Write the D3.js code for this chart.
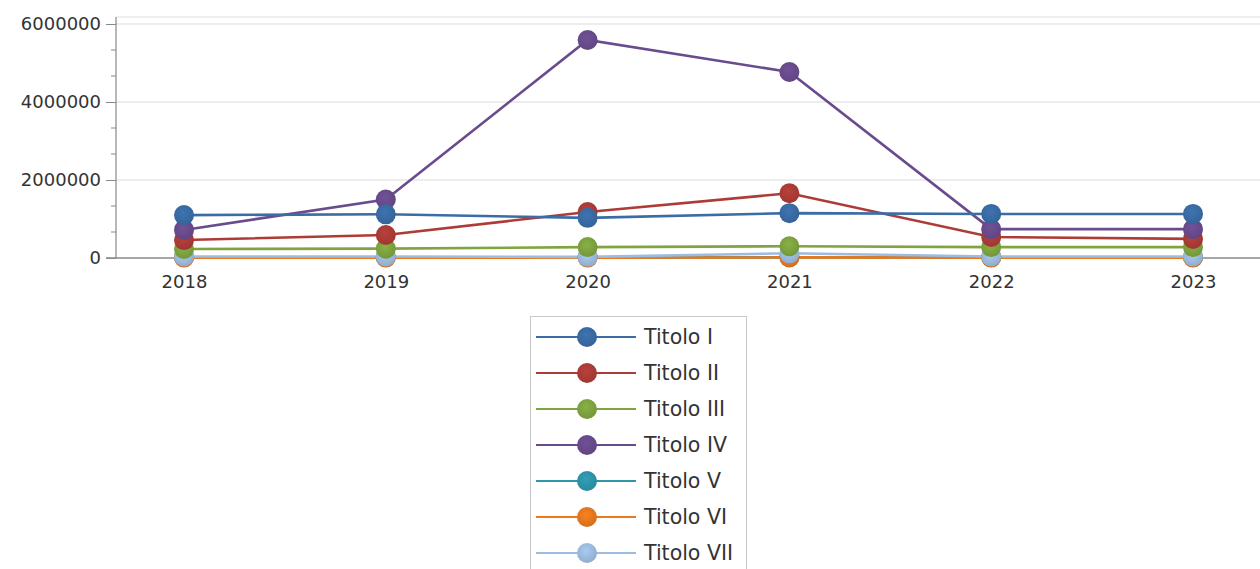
<!DOCTYPE html>
<html><head><meta charset="utf-8">
<script src="https://cdn.jsdelivr.net/npm/d3@7/dist/d3.min.js"></script>
<style>body{margin:0;background:#fff;}svg{display:block;font-family:"DejaVu Sans",sans-serif;}</style>
</head><body><svg id="c" width="1260" height="569"></svg>
<script>
const years = ["2018","2019","2020","2021","2022","2023"];
const seriesNames = ["Titolo I","Titolo II","Titolo III","Titolo IV","Titolo V","Titolo VI","Titolo VII"];
const titoloI   = [1100000,1120000,1030000,1150000,1130000,1130000];
const titoloII  = [460000,590000,1180000,1660000,540000,490000];
const titoloIII = [230000,240000,280000,300000,280000,280000];
const titoloIV  = [720000,1500000,5590000,4770000,740000,740000];
const titoloV   = [20000,20000,20000,20000,20000,20000];
const titoloVI  = [10000,10000,10000,15000,10000,10000];
const titoloVII = [40000,40000,30000,120000,40000,40000];
const seriesValues = [titoloI,titoloII,titoloIII,titoloIV,titoloV,titoloVI,titoloVII];
const colors = ["#3a6ca6","#ad3c37","#7fa53f","#6a4b8e","#2e95aa","#e8791f","#9dbde0"];
const yTicks = [0,2000000,4000000,6000000];

const svg = d3.select("#c");
const x = d3.scalePoint().domain(years).range([184,1193]);
const y = d3.scaleLinear().domain([0,6000000]).range([258,24]);
const FONT = "DejaVu Sans, sans-serif";

const defs = svg.append("defs");
colors.forEach((c,i)=>{
  const g = defs.append("radialGradient").attr("id","g"+i).attr("cx","45%").attr("cy","40%").attr("r","60%");
  g.append("stop").attr("offset","0%").attr("stop-color",d3.color(c).brighter(0.2));
  g.append("stop").attr("offset","100%").attr("stop-color",d3.color(c).darker(0.25));
});

// gridlines
svg.append("g").selectAll("line").data(yTicks.slice(1)).join("line")
  .attr("x1",116).attr("x2",1260).attr("y1",d=>y(d)).attr("y2",d=>y(d))
  .attr("stroke","#dcdcdc").attr("stroke-width",1.2);
svg.append("line").attr("x1",116).attr("x2",1260).attr("y1",17).attr("y2",17).attr("stroke","#e0e0e0").attr("stroke-width",1.2);

// y axis
const yAxis = svg.append("g").attr("transform","translate(116,0)")
  .call(d3.axisLeft(y).tickValues(yTicks).tickFormat(d3.format("d")).tickSize(10).tickSizeOuter(0));
yAxis.attr("font-family",FONT);
yAxis.select(".domain").remove();
yAxis.selectAll(".tick line").attr("stroke","#888");
yAxis.selectAll("text").attr("font-size",18).attr("fill","#333").attr("x",-15);
const minor = d3.range(0,6000001,2000000/3).filter((d,i)=>i%3!==0);
svg.append("g").selectAll("line").data(minor).join("line")
  .attr("x1",111).attr("x2",116).attr("y1",d=>y(d)).attr("y2",d=>y(d)).attr("stroke","#888");
svg.append("line").attr("x1",116).attr("x2",116).attr("y1",17).attr("y2",258).attr("stroke","#888").attr("stroke-width",1.2);

// x axis
const xAxis = svg.append("g").attr("transform","translate(0,258)")
  .call(d3.axisBottom(x).tickSize(8).tickSizeOuter(0));
xAxis.attr("font-family",FONT);
xAxis.select(".domain").remove();
xAxis.selectAll(".tick line").attr("stroke","#999");
xAxis.selectAll("text").attr("font-size",18).attr("fill","#333").attr("dy","1.05em");
svg.append("line").attr("x1",106).attr("x2",1260).attr("y1",258).attr("y2",258).attr("stroke","#888").attr("stroke-width",1.5);

// lines + markers
const line = d3.line().x((d,i)=>x(years[i])).y(d=>y(d));
const order = [4,5,6,2,1,3,0];
order.forEach(si=>{
  svg.append("path").datum(seriesValues[si]).attr("d",line)
    .attr("fill","none").attr("stroke",colors[si]).attr("stroke-width",2.6);
});
order.forEach(si=>{
  svg.append("g").selectAll("circle").data(seriesValues[si]).join("circle")
    .attr("cx",(d,i)=>x(years[i])).attr("cy",d=>y(d)).attr("r",10)
    .attr("fill","url(#g"+si+")");
});

// legend
const lg = svg.append("g");
lg.append("rect").attr("x",530.5).attr("y",316.5).attr("width",216).attr("height",270)
  .attr("fill","#fff").attr("stroke","#c8c8c8");
seriesNames.forEach((n,i)=>{
  const cy = 337 + i*36;
  lg.append("line").attr("x1",536).attr("x2",636).attr("y1",cy).attr("y2",cy).attr("stroke",colors[i]).attr("stroke-width",2);
  lg.append("circle").attr("cx",587).attr("cy",cy).attr("r",10).attr("fill","url(#g"+i+")");
  lg.append("text").attr("x",644).attr("y",cy).attr("dy","0.36em").attr("font-size",20.5).attr("fill","#333").text(n);
});
</script></body></html>
